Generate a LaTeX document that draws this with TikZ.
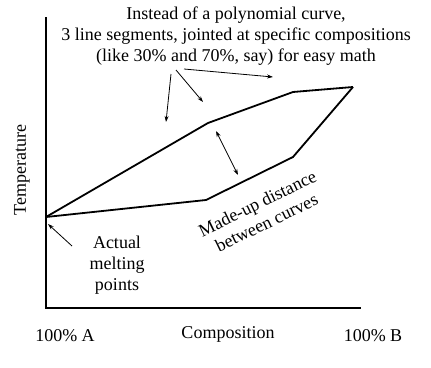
\documentclass[tikz,border=0pt]{standalone}
\usepackage{fontspec}
\setmainfont{Liberation Serif}
\usetikzlibrary{arrows.meta}
\begin{document}
\begin{tikzpicture}[x=1pt,y=-1pt,
  txt/.style={font=\fontsize{18}{21}\selectfont, inner sep=0pt, align=center},
  curve/.style={line width=1.8pt, line join=miter},
  axis/.style={line width=1.8pt},
  pointer/.style={line width=0.8pt, -{Stealth[length=6pt,width=4pt]}},
  dpointer/.style={line width=0.8pt, {Stealth[length=6pt,width=4pt]}-{Stealth[length=6pt,width=4pt]}}]
\useasboundingbox (0,0) rectangle (431,367);
% axes
\coordinate (top) at (46,17);
\coordinate (orig) at (46,308);
\coordinate (xend) at (361,308);
\draw[axis] (top) -- (orig) -- (xend);
% curves
\coordinate (A) at (46,217);
\coordinate (U1) at (208,123);
\coordinate (U2) at (293,92);
\coordinate (B) at (353,87);
\coordinate (L1) at (206,200);
\coordinate (L2) at (293,157);
\draw[curve] (A) -- (U1) -- (U2) -- (B);
\draw[curve] (A) -- (L1) -- (L2) -- (B);
% texts
\node[txt] (title) at (236,36) {Instead of a polynomial curve,\\3 line segments, jointed at specific compositions\\(like 30\% and 70\%, say) for easy math};
\node[txt, rotate=90] (temp) at (22,170) {Temperature};
\node[txt] (pa) at (65,336) {100\% A};
\node[txt] (comp) at (228,334) {Composition};
\node[txt] (pb) at (373,336) {100\% B};
\node[txt] (act) at (117,265) {Actual\\melting\\points};
\node[txt, rotate=26] (made) at (262,213) {Made-up distance\\between curves};
% pointers
\coordinate (t1) at (171,74);
\coordinate (h1) at (166,122);
\coordinate (t2) at (176,70);
\coordinate (h2) at (203,102);
\coordinate (t3) at (184,69);
\coordinate (h3) at (273,77);
\draw[pointer] (t1) -- (h1);
\draw[pointer] (t2) -- (h2);
\draw[pointer] (t3) -- (h3);
\coordinate (ta) at (72,246);
\coordinate (ha) at (48,224);
\draw[pointer] (ta) -- (ha);
\coordinate (d1) at (216,131);
\coordinate (d2) at (238,175);
\draw[dpointer] (d1) -- (d2);
\end{tikzpicture}
\end{document}
